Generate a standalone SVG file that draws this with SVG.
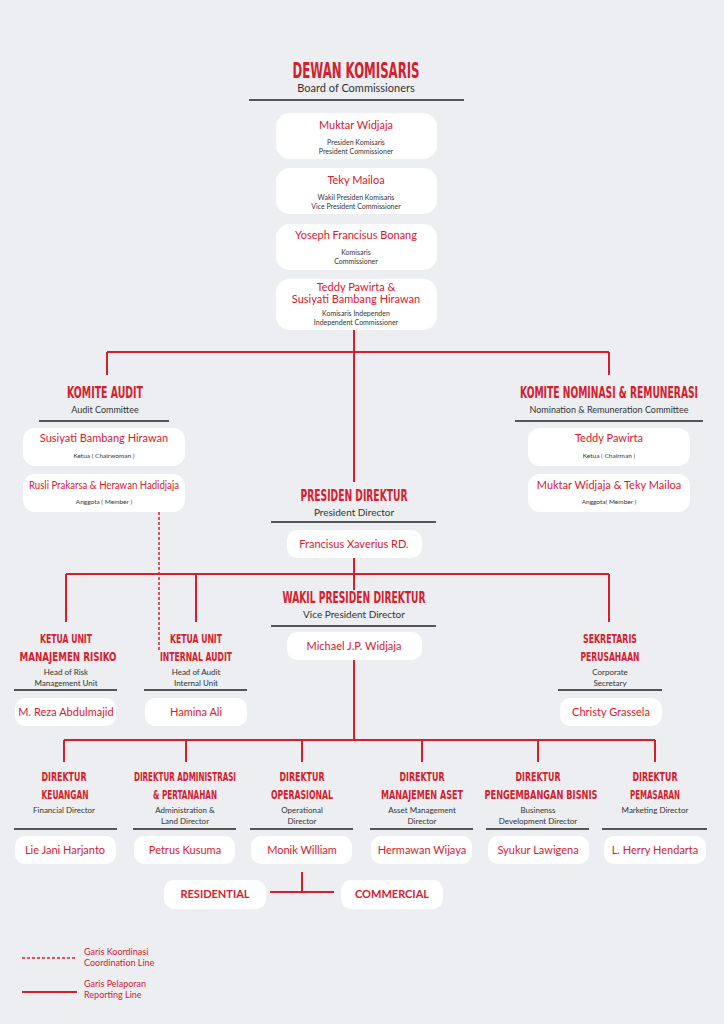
<svg xmlns="http://www.w3.org/2000/svg" width="724" height="1024" viewBox="0 0 724 1024">
<style>
.bg{fill:#eceef1}
.box{fill:#fff}
.h{font-family:"DejaVu Sans","Liberation Sans",sans-serif;font-weight:bold;fill:#d4202e;text-anchor:middle}
.s{font-family:"Lato","Liberation Sans",sans-serif;fill:#333;text-anchor:middle}
.n{font-family:"Lato","Liberation Sans",sans-serif;fill:#d4202e;text-anchor:middle;font-size:11px}
.d{stroke:#555;stroke-width:2}
.r{stroke:#d4202e;stroke-width:2;fill:none}
.rd{stroke:#d4202e;stroke-width:1.5;stroke-dasharray:3,2;fill:none}
.lg{font-family:"Lato","Liberation Sans",sans-serif;fill:#d4202e;font-size:9px}
</style>
<rect class="bg" width="724" height="1024"/>
<g id="connectors">
<path class="r" d="M354 330V482M107 352H609M107 352V375M609 352V375"/>
<path class="r" d="M354 558V590M66 574H609M66 574V622M196 574V622M609 574V622"/>
<path class="r" d="M354 660V740M64 740H655M64 740V762M186 740V762M302 740V762M422 740V762M538 740V762M655 740V762"/>
<path class="r" d="M302 872V892M270 892H334"/>
<path class="rd" d="M159 512V650"/>
</g>
<g id="dewan">
<text class="h" x="356" y="78" font-size="22" textLength="127" lengthAdjust="spacingAndGlyphs">DEWAN KOMISARIS</text>
<text class="s" x="356" y="92" font-size="11">Board of Commissioners</text>
<line class="d" x1="249" y1="100" x2="464" y2="100"/>
</g>
<g id="c1"><rect class="box" x="276" y="113" width="161" height="46" rx="14"/><text class="n" x="356" y="129">Muktar Widjaja</text><text class="s" x="356" y="145" font-size="7">Presiden Komisaris</text><text class="s" x="356" y="154" font-size="7">President Commissioner</text></g>
<g id="c2"><rect class="box" x="276" y="168" width="161" height="46" rx="14"/><text class="n" x="356" y="184">Teky Mailoa</text><text class="s" x="356" y="200" font-size="7">Wakil Presiden Komisaris</text><text class="s" x="356" y="209" font-size="7">Vice President Commissioner</text></g>
<g id="c3"><rect class="box" x="276" y="224" width="161" height="46" rx="14"/><text class="n" x="356" y="239">Yoseph Francisus Bonang</text><text class="s" x="356" y="255" font-size="7">Komisaris</text><text class="s" x="356" y="264" font-size="7">Commissioner</text></g>
<g id="c4"><rect class="box" x="276" y="279" width="161" height="51" rx="14"/><text class="n" x="356" y="291" font-size="10">Teddy Pawirta &amp;</text><text class="n" x="356" y="303" font-size="10">Susiyati Bambang Hirawan</text><text class="s" x="356" y="316" font-size="7">Komisaris Independen</text><text class="s" x="356" y="325" font-size="7">Independent Commissioner</text></g>
<g id="audit">
<text class="h" x="105" y="398" font-size="16" textLength="76" lengthAdjust="spacingAndGlyphs">KOMITE AUDIT</text>
<text class="s" x="105" y="413" font-size="9">Audit Committee</text>
<line class="d" x1="39" y1="421" x2="169" y2="421"/>
</g>
<g id="a1"><rect class="box" x="23" y="428" width="162" height="38" rx="12"/><text class="n" x="104" y="442">Susiyati Bambang Hirawan</text><text class="s" x="104" y="458" font-size="6.5">Ketua ( Chairwoman )</text></g>
<g id="a2"><rect class="box" x="23" y="474" width="162" height="38" rx="12"/><text class="n" x="104" y="489" font-size="9.5" textLength="150" lengthAdjust="spacingAndGlyphs">Rusli Prakarsa &amp; Herawan Hadidjaja</text><text class="s" x="104" y="504" font-size="6.5">Anggota ( Member )</text></g>
<g id="nom">
<text class="h" x="609" y="398" font-size="16" textLength="178" lengthAdjust="spacingAndGlyphs">KOMITE NOMINASI &amp; REMUNERASI</text>
<text class="s" x="609" y="413" font-size="9">Nomination &amp; Remuneration Committee</text>
<line class="d" x1="515" y1="421" x2="703" y2="421"/>
</g>
<g id="n1"><rect class="box" x="528" y="428" width="162" height="38" rx="12"/><text class="n" x="609" y="442">Teddy Pawirta</text><text class="s" x="609" y="458" font-size="6.5">Ketua ( Chairman )</text></g>
<g id="n2"><rect class="box" x="528" y="474" width="162" height="38" rx="12"/><text class="n" x="609" y="489">Muktar Widjaja &amp; Teky Mailoa</text><text class="s" x="609" y="504" font-size="6.5">Anggota( Member )</text></g>
<g id="presdir">
<text class="h" x="354" y="501" font-size="15" textLength="107" lengthAdjust="spacingAndGlyphs">PRESIDEN DIREKTUR</text>
<text class="s" x="354" y="516" font-size="10">President Director</text>
<line class="d" x1="271" y1="522" x2="436" y2="522"/>
<rect class="box" x="287" y="530" width="135" height="28" rx="10"/><text class="n" x="354" y="548" font-size="10">Francisus Xaverius RD.</text>
</g>
<g id="wakil">
<text class="h" x="354" y="603" font-size="15" textLength="143" lengthAdjust="spacingAndGlyphs">WAKIL PRESIDEN DIREKTUR</text>
<text class="s" x="354" y="618" font-size="10">Vice President Director</text>
<line class="d" x1="271" y1="626" x2="436" y2="626"/>
<rect class="box" x="287" y="632" width="135" height="28" rx="10"/><text class="n" x="354" y="650" font-size="10">Michael J.P. Widjaja</text>
</g>
<g id="risiko">
<text class="h" x="66" y="643" font-size="13" textLength="52" lengthAdjust="spacingAndGlyphs">KETUA UNIT</text><text class="h" x="68" y="661" font-size="13" textLength="97" lengthAdjust="spacingAndGlyphs">MANAJEMEN RISIKO</text>
<text class="s" x="66" y="675" font-size="8">Head of Risk</text><text class="s" x="66" y="686" font-size="8">Management Unit</text>
<line class="d" x1="14" y1="690" x2="117" y2="690"/>
<rect class="box" x="15" y="698" width="101" height="28" rx="10"/><text class="n" x="66" y="716" font-size="10">M. Reza Abdulmajid</text>
</g>
<g id="internal">
<text class="h" x="196" y="643" font-size="13" textLength="52" lengthAdjust="spacingAndGlyphs">KETUA UNIT</text><text class="h" x="196" y="661" font-size="13" textLength="72" lengthAdjust="spacingAndGlyphs">INTERNAL AUDIT</text>
<text class="s" x="196" y="675" font-size="8">Head of Audit</text><text class="s" x="196" y="686" font-size="8">Internal Unit</text>
<line class="d" x1="144" y1="690" x2="247" y2="690"/>
<rect class="box" x="145" y="698" width="102" height="28" rx="10"/><text class="n" x="196" y="716" font-size="10">Hamina Ali</text>
</g>
<g id="sekretaris">
<text class="h" x="610" y="643" font-size="13" textLength="54" lengthAdjust="spacingAndGlyphs">SEKRETARIS</text><text class="h" x="610" y="661" font-size="13" textLength="59" lengthAdjust="spacingAndGlyphs">PERUSAHAAN</text>
<text class="s" x="610" y="675" font-size="8">Corporate</text><text class="s" x="610" y="686" font-size="8">Secretary</text>
<line class="d" x1="558" y1="690" x2="662" y2="690"/>
<rect class="box" x="560" y="698" width="102" height="28" rx="10"/><text class="n" x="611" y="716" font-size="10">Christy Grassela</text>
</g>
<g id="keuangan">
<text class="h" x="64" y="781" font-size="13" textLength="45" lengthAdjust="spacingAndGlyphs">DIREKTUR</text><text class="h" x="65" y="799" font-size="13" textLength="47" lengthAdjust="spacingAndGlyphs">KEUANGAN</text>
<text class="s" x="64" y="813" font-size="8">Financial Director</text>
<line class="d" x1="14" y1="829" x2="117" y2="829"/>
<rect class="box" x="15" y="836" width="101" height="28" rx="10"/><text class="n" x="65" y="854" font-size="10">Lie Jani Harjanto</text>
</g>
<g id="administrasi">
<text class="h" x="185" y="781" font-size="13" textLength="102" lengthAdjust="spacingAndGlyphs">DIREKTUR ADMINISTRASI</text><text class="h" x="185" y="799" font-size="13" textLength="64" lengthAdjust="spacingAndGlyphs">&amp; PERTANAHAN</text>
<text class="s" x="185" y="813" font-size="8">Administration &amp;</text><text class="s" x="185" y="824" font-size="8">Land Director</text>
<line class="d" x1="133" y1="829" x2="236" y2="829"/>
<rect class="box" x="134" y="836" width="101" height="28" rx="10"/><text class="n" x="185" y="854" font-size="10">Petrus Kusuma</text>
</g>
<g id="operasional">
<text class="h" x="302" y="781" font-size="13" textLength="45" lengthAdjust="spacingAndGlyphs">DIREKTUR</text><text class="h" x="302" y="799" font-size="13" textLength="62" lengthAdjust="spacingAndGlyphs">OPERASIONAL</text>
<text class="s" x="302" y="813" font-size="8">Operational</text><text class="s" x="302" y="824" font-size="8">Director</text>
<line class="d" x1="250" y1="829" x2="353" y2="829"/>
<rect class="box" x="251" y="836" width="101" height="28" rx="10"/><text class="n" x="302" y="854" font-size="10">Monik William</text>
</g>
<g id="aset">
<text class="h" x="422" y="781" font-size="13" textLength="45" lengthAdjust="spacingAndGlyphs">DIREKTUR</text><text class="h" x="422" y="799" font-size="13" textLength="82" lengthAdjust="spacingAndGlyphs">MANAJEMEN ASET</text>
<text class="s" x="422" y="813" font-size="8">Asset Management</text><text class="s" x="422" y="824" font-size="8">Director</text>
<line class="d" x1="370" y1="829" x2="473" y2="829"/>
<rect class="box" x="371" y="836" width="101" height="28" rx="10"/><text class="n" x="422" y="854" font-size="10">Hermawan Wijaya</text>
</g>
<g id="bisnis">
<text class="h" x="538" y="781" font-size="13" textLength="45" lengthAdjust="spacingAndGlyphs">DIREKTUR</text><text class="h" x="541" y="799" font-size="13" textLength="113" lengthAdjust="spacingAndGlyphs">PENGEMBANGAN BISNIS</text>
<text class="s" x="538" y="813" font-size="8">Businenss</text><text class="s" x="538" y="824" font-size="8">Development Director</text>
<line class="d" x1="486" y1="829" x2="589" y2="829"/>
<rect class="box" x="488" y="836" width="101" height="28" rx="10"/><text class="n" x="538" y="854" font-size="10">Syukur Lawigena</text>
</g>
<g id="pemasaran">
<text class="h" x="655" y="781" font-size="13" textLength="45" lengthAdjust="spacingAndGlyphs">DIREKTUR</text><text class="h" x="655" y="799" font-size="13" textLength="50" lengthAdjust="spacingAndGlyphs">PEMASARAN</text>
<text class="s" x="655" y="813" font-size="8">Marketing Director</text>
<line class="d" x1="602" y1="829" x2="707" y2="829"/>
<rect class="box" x="604" y="836" width="102" height="28" rx="10"/><text class="n" x="655" y="854" font-size="10">L. Herry Hendarta</text>
</g>
<g id="residential"><rect class="box" x="164" y="880" width="102" height="29" rx="10"/><text class="n" x="215" y="898" font-size="10" font-weight="bold">RESIDENTIAL</text></g>
<g id="commercial"><rect class="box" x="341" y="880" width="102" height="29" rx="10"/><text class="n" x="392" y="898" font-size="10" font-weight="bold">COMMERCIAL</text></g>
<g id="legend">
<line class="rd" x1="22" y1="958" x2="77" y2="958"/>
<text class="lg" x="84" y="955">Garis Koordinasi</text><text class="lg" x="84" y="966">Coordination Line</text>
<line class="r" x1="22" y1="992" x2="77" y2="992"/>
<text class="lg" x="84" y="987">Garis Pelaporan</text><text class="lg" x="84" y="998">Reporting Line</text>
</g>
</svg>
